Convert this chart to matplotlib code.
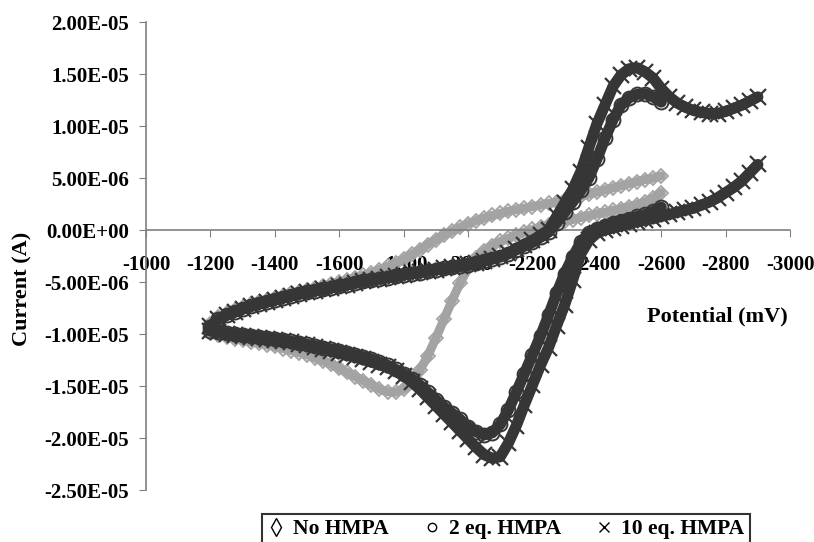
import numpy as np
import matplotlib
matplotlib.use("Agg")
import matplotlib.pyplot as plt
from matplotlib.lines import Line2D
from matplotlib.ticker import FuncFormatter, MultipleLocator

plt.rcParams['font.family'] = ['Liberation Serif', 'DejaVu Serif']
plt.rcParams['font.weight'] = 'bold'
plt.rcParams['axes.unicode_minus'] = False

# potential sweeps (mV), 25 mV steps
pot_short = np.arange(-1200, -2625, -25)   # -1200 ... -2600
pot_long = np.arange(-1200, -2925, -25)    # -1200 ... -2900

# currents, in microamps
no_hmpa_up = [-9.0, -8.4, -8.0, -7.7,
              -7.4, -7.15, -6.9, -6.7,
              -6.5, -6.3, -6.1, -5.95,
              -5.8, -5.6, -5.4, -5.2,
              -5.0, -4.8, -4.6, -4.35,
              -4.1, -3.8, -3.5, -3.15,
              -2.8, -2.35, -1.9, -1.4,
              -0.95, -0.5, -0.1, 0.25,
              0.6, 0.9, 1.15, 1.4,
              1.6, 1.8, 1.95, 2.1,
              2.25, 2.4, 2.55, 2.7,
              2.9, 3.05, 3.25, 3.45,
              3.65, 3.85, 4.05, 4.25,
              4.45, 4.65, 4.85, 5.0,
              5.2]
no_hmpa_down = [-9.9, -10.1, -10.3, -10.45,
                -10.6, -10.75, -10.9, -11.05,
                -11.2, -11.4, -11.6, -11.8,
                -12.0, -12.3, -12.6, -12.9,
                -13.3, -13.7, -14.1, -14.5,
                -14.9, -15.3, -15.55, -15.6,
                -15.3, -14.6, -13.5, -12.1,
                -10.4, -8.6, -6.8, -5.1,
                -3.7, -2.7, -2.0, -1.5,
                -1.1, -0.8, -0.5, -0.2,
                0.05, 0.3, 0.5, 0.7,
                0.85, 1.0, 1.2, 1.4,
                1.55, 1.7, 1.9, 2.05,
                2.25, 2.45, 2.7, 3.05,
                3.6]

eq2_up = [-9.3, -8.6, -8.2, -7.9,
          -7.6, -7.35, -7.1, -6.9,
          -6.7, -6.5, -6.3, -6.15,
          -6.0, -5.85, -5.7, -5.55,
          -5.4, -5.25, -5.1, -4.95,
          -4.8, -4.7, -4.6, -4.45,
          -4.3, -4.2, -4.1, -3.95,
          -3.8, -3.7, -3.6, -3.5,
          -3.4, -3.2, -3.0, -2.8,
          -2.6, -2.3, -1.9, -1.55,
          -1.2, -0.7, -0.2, 0.7,
          1.7, 2.7, 3.8, 5.0,
          6.8, 8.8, 10.6, 12.0,
          12.7, 13.05, 13.1, 12.8,
          12.3]
eq2_down = [-9.7, -9.8, -9.9, -10.0,
            -10.1, -10.2, -10.3, -10.4,
            -10.5, -10.6, -10.7, -10.85,
            -11.0, -11.15, -11.3, -11.45,
            -11.6, -11.8, -12.0, -12.2,
            -12.4, -12.7, -13.0, -13.4,
            -13.8, -14.3, -14.9, -15.6,
            -16.3, -17.0, -17.6, -18.2,
            -18.9, -19.4, -19.7, -19.5,
            -18.7, -17.3, -15.6, -13.8,
            -12.0, -10.2, -8.2, -6.1,
            -4.2, -2.6, -1.2, -0.3,
            0.1, 0.4, 0.7, 0.9,
            1.1, 1.3, 1.5, 1.8,
            2.2]

eq10_up = [-9.2, -8.6, -8.2, -7.9,
           -7.6, -7.35, -7.1, -6.9,
           -6.7, -6.5, -6.3, -6.15,
           -6.0, -5.85, -5.7, -5.55,
           -5.4, -5.25, -5.1, -4.95,
           -4.8, -4.7, -4.55, -4.4,
           -4.3, -4.15, -4.0, -3.9,
           -3.8, -3.7, -3.55, -3.45,
           -3.3, -3.15, -2.95, -2.75,
           -2.5, -2.2, -1.8, -1.4,
           -1.0, -0.5, 0.0, 1.3,
           2.6, 3.9, 5.6, 7.9,
           10.2, 12.0, 13.8, 14.9,
           15.5, 15.6, 15.2, 14.6,
           13.6, 12.8, 12.2, 11.8,
           11.5, 11.3, 11.2, 11.2,
           11.4, 11.7, 12.0, 12.4,
           12.8]
eq10_down = [-9.7, -9.85, -10.0, -10.1,
             -10.2, -10.3, -10.4, -10.5,
             -10.6, -10.7, -10.8, -10.95,
             -11.1, -11.25, -11.4, -11.6,
             -11.8, -12.0, -12.2, -12.45,
             -12.7, -12.95, -13.2, -13.6,
             -14.0, -14.6, -15.3, -16.1,
             -16.9, -17.7, -18.5, -19.3,
             -20.1, -20.9, -21.6, -21.95,
             -21.8, -20.5, -18.8, -16.8,
             -14.9, -13.0, -11.3, -9.2,
             -7.2, -4.8, -2.3, -1.0,
             -0.3, 0.0, 0.2, 0.4,
             0.6, 0.8, 0.95, 1.1,
             1.3, 1.5, 1.7, 1.9,
             2.1, 2.4, 2.7, 3.1,
             3.6, 4.1, 4.7, 5.5,
             6.3]

labels = ['No HMPA', '2 eq. HMPA', '10 eq. HMPA']

ua = 1e-6
light = '#a3a3a3'
dark = '#363636'

fig = plt.figure(figsize=(8.14, 5.42), dpi=100)
ax = fig.add_axes([0.1794, 0.0959, 0.7912, 0.8635])

# No HMPA (grey diamonds)
for cur in (no_hmpa_up, no_hmpa_down):
    ax.plot(pot_short, np.array(cur) * ua, color=light, lw=6.5, solid_capstyle='round',
            marker='D', ms=7, mfc='none', mec=light, mew=1.3, zorder=2)
# 2 eq. HMPA (dark circles)
for cur in (eq2_up, eq2_down):
    ax.plot(pot_short, np.array(cur) * ua, color=dark, lw=8, solid_capstyle='round',
            marker='o', ms=10, mfc='none', mec=dark, mew=1.4, zorder=3)
# 10 eq. HMPA (dark crosses)
for cur in (eq10_up, eq10_down):
    ax.plot(pot_long, np.array(cur) * ua, color=dark, lw=8, solid_capstyle='round',
            marker='x', ms=11, mec=dark, mew=1.6, zorder=4)


def ytick_fmt(v, pos):
    if abs(v) < 1e-12:
        v = 0.0
    return f"{v:.2E}"


ax.set_xlim(-1000, -3000)
ax.set_ylim(-2.5e-5, 2.0e-5)
ax.xaxis.set_major_locator(MultipleLocator(200))
ax.yaxis.set_major_locator(MultipleLocator(5e-6))
ax.yaxis.set_major_formatter(FuncFormatter(ytick_fmt))
ax.xaxis.set_major_formatter(FuncFormatter(lambda v, p: f"{v:.0f}"))

ax.spines['top'].set_visible(False)
ax.spines['right'].set_visible(False)
ax.spines['bottom'].set_position(('data', 0))
for s in ('left', 'bottom'):
    ax.spines[s].set_color('#808080')
    ax.spines[s].set_linewidth(1.2)

ax.tick_params(axis='both', direction='out', length=5, color='#808080', labelsize=15)
ax.tick_params(axis='x', pad=13)
ax.tick_params(axis='y', pad=7)

ax.set_ylabel('Current (A)', fontsize=16, fontweight='bold')
ax.yaxis.set_label_coords(-0.177, 0.43)
ax.set_xlabel('Potential (mV)', fontsize=16, fontweight='bold')
ax.xaxis.set_label_coords(0.887, 0.392)

handles = [Line2D([], [], ls='none', marker='d', ms=9, mfc='none', mec='black', mew=1),
           Line2D([], [], ls='none', marker='o', ms=6, mfc='none', mec='black', mew=1),
           Line2D([], [], ls='none', marker='x', ms=7, mec='black', mew=1)]
leg = fig.legend(handles, labels, loc='upper center', bbox_to_anchor=(0.6216, 0.052),
                 ncol=3, frameon=True, fancybox=False, edgecolor='black',
                 prop={'family': 'Liberation Serif', 'weight': 'bold', 'size': 15.5},
                 handlelength=0.8, handletextpad=0.4, columnspacing=1.6,
                 borderpad=0.25, borderaxespad=0)
leg.get_frame().set_linewidth(1.5)

fig.savefig('out.png', dpi=100)
